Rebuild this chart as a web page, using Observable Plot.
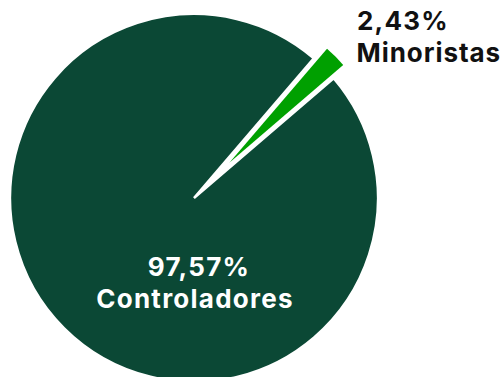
<!DOCTYPE html>
<html><head><meta charset="utf-8">
<script src="https://cdn.jsdelivr.net/npm/d3@7"></script>
<script src="https://cdn.jsdelivr.net/npm/@observablehq/plot@0.6"></script>
<style>
html,body{margin:0;padding:0;background:#fff;overflow:hidden}
svg{display:block}
</style>
</head><body><div id="chart"></div>
<script>
// ---- data ----
const categories = ["Minoristas", "Controladores"];
const shares = [2.43, 97.57];
const shareLabels = ["2,43%", "97,57%"];
const colors = ["#00A000", "#0B4835"];

// ---- layout ----
const W = 503, H = 377;
const cx = 194, cy = 198, R = 184;
const explodeOffset = 50, explodeRadius = 150;
const font = "Inter, 'Open Sans', sans-serif";

const data = categories.map((c, i) => ({category: c, share: shares[i], pct: shareLabels[i]}));
const color = d3.scaleOrdinal(categories, colors);
const half = shares[0] / 100 * Math.PI;
const mid = Math.PI / 4;
const arcs = d3.pie().sort(null).value(d => d.share)
  .startAngle(mid - half).endAngle(mid - half + 2 * Math.PI)(data);

function pieMark(index, scales) {
  const g = d3.create("svg:g");
  [1, 0].forEach(i => {
    const a = arcs[i];
    const exploded = i === 0;
    const bis = (a.startAngle + a.endAngle) / 2;
    const off = exploded ? explodeOffset : 0;
    const r = exploded ? explodeRadius : R;
    const px = scales.x(cx) + off * Math.sin(bis);
    const py = scales.y(cy) - off * Math.cos(bis);
    g.append("path")
      .attr("d", d3.arc().innerRadius(0).outerRadius(r)(a))
      .attr("transform", `translate(${px},${py})`)
      .attr("fill", color(a.data.category))
      .attr("stroke", exploded ? "none" : "#fff")
      .attr("stroke-width", exploded ? 0 : 2.5)
      .attr("stroke-linejoin", "miter");
  });
  return g.node();
}

const fs = 26;
const labelRows = [
  {t: data[0].pct, x: 356.5, y: 31, anchor: "start", fill: "#111", ls: 1.2},
  {t: data[0].category, x: 356, y: 63, anchor: "start", fill: "#111", ls: 0.95},
  {t: data[1].pct, x: 198.5, y: 277, anchor: "middle", fill: "#fff", ls: 1.25},
  {t: data[1].category, x: 194.5, y: 309, anchor: "middle", fill: "#fff", ls: 1.25}
];

const textOpts = anchor => ({
  x: "x", y: d => d.y - fs * 0.36, text: "t", fill: "fill",
  textAnchor: anchor, fontSize: fs, fontWeight: 700
});

const chart = Plot.plot({
  width: W, height: H,
  margin: 0,
  x: {domain: [0, W], range: [0, W], axis: null},
  y: {domain: [0, H], range: [0, H], axis: null},
  style: {fontFamily: font, background: "#fff", overflow: "hidden"},
  marks: [
    pieMark,
    Plot.text(labelRows, textOpts("start"))
      .plot ? null : null,
  ].filter(Boolean).concat(
    labelRows.map(r => Plot.text([r], {...textOpts(r.anchor), render: (i, s, v, d, c, next) => {
      const g = next(i, s, v, d, c);
      g.querySelectorAll("text").forEach(t => t.style.letterSpacing = r.ls + "px");
      return g;
    }}))
  )
});
document.getElementById("chart").append(chart);
</script>
</body></html>
